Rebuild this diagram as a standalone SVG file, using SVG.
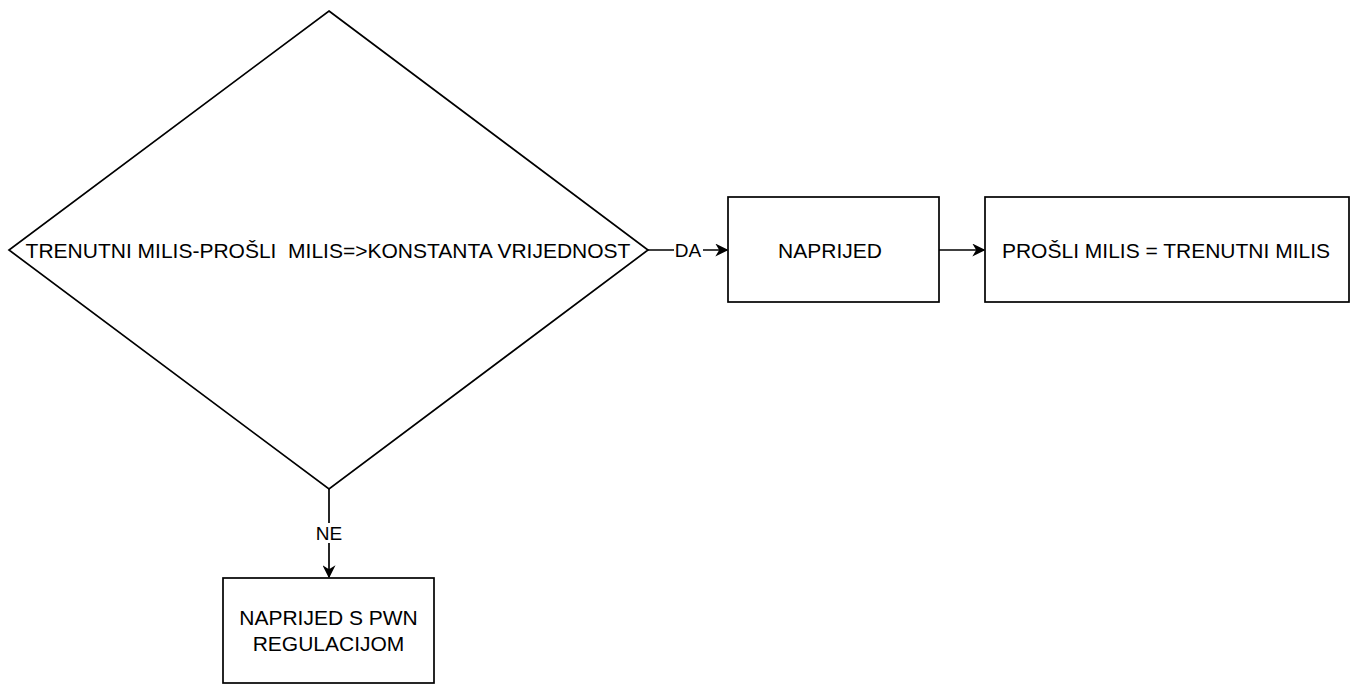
<svg xmlns="http://www.w3.org/2000/svg" width="1355" height="684" viewBox="0 0 1355 684">
<defs>
<marker id="arr" viewBox="0 0 10 10" refX="9" refY="5" markerWidth="13" markerHeight="13" markerUnits="userSpaceOnUse" orient="auto">
<path d="M0,0 L10,5 L0,10 L3,5 z" fill="#000"/>
</marker>
<style>
.s{fill:#fff;stroke:#000;stroke-width:1.7}
.t{font-family:"Liberation Sans",Arial,sans-serif;font-size:21px;fill:#000;text-anchor:middle;dominant-baseline:central;white-space:pre}
.c{stroke:#000;stroke-width:1.7;fill:none}
.l{font-family:"Liberation Sans",Arial,sans-serif;font-size:19px;fill:#000;text-anchor:middle;dominant-baseline:central}
</style>
</defs>
<rect width="1355" height="684" fill="#fff"/>
<g id="connectors">
<path class="c" d="M648,250 L727,250" marker-end="url(#arr)"/>
<rect x="674" y="240" width="29" height="20" fill="#fff"/>
<text class="l" x="688" y="250">DA</text>
<path class="c" d="M939,250 L984,250" marker-end="url(#arr)"/>
<path class="c" d="M329,489 L329,577" marker-end="url(#arr)"/>
<rect x="314" y="523" width="30" height="20" fill="#fff"/>
<text class="l" x="329" y="533">NE</text>
</g>
<g id="decision">
<polygon class="s" points="329,11 648,250 329,489 9,250"/>
<text class="t" x="328" y="250" xml:space="preserve">TRENUTNI MILIS-PROŠLI  MILIS=&gt;KONSTANTA VRIJEDNOST</text>
</g>
<g id="naprijed">
<rect class="s" x="728" y="197" width="211" height="105"/>
<text class="t" x="830" y="250">NAPRIJED</text>
</g>
<g id="prosli">
<rect class="s" x="985" y="197" width="364" height="105"/>
<text class="t" x="1166" y="250">PROŠLI MILIS = TRENUTNI MILIS</text>
</g>
<g id="pwn">
<rect class="s" x="223" y="578" width="211" height="105"/>
<text class="t" x="328.5" y="617">NAPRIJED S PWN</text>
<text class="t" x="328.5" y="643">REGULACIJOM</text>
</g>
</svg>
